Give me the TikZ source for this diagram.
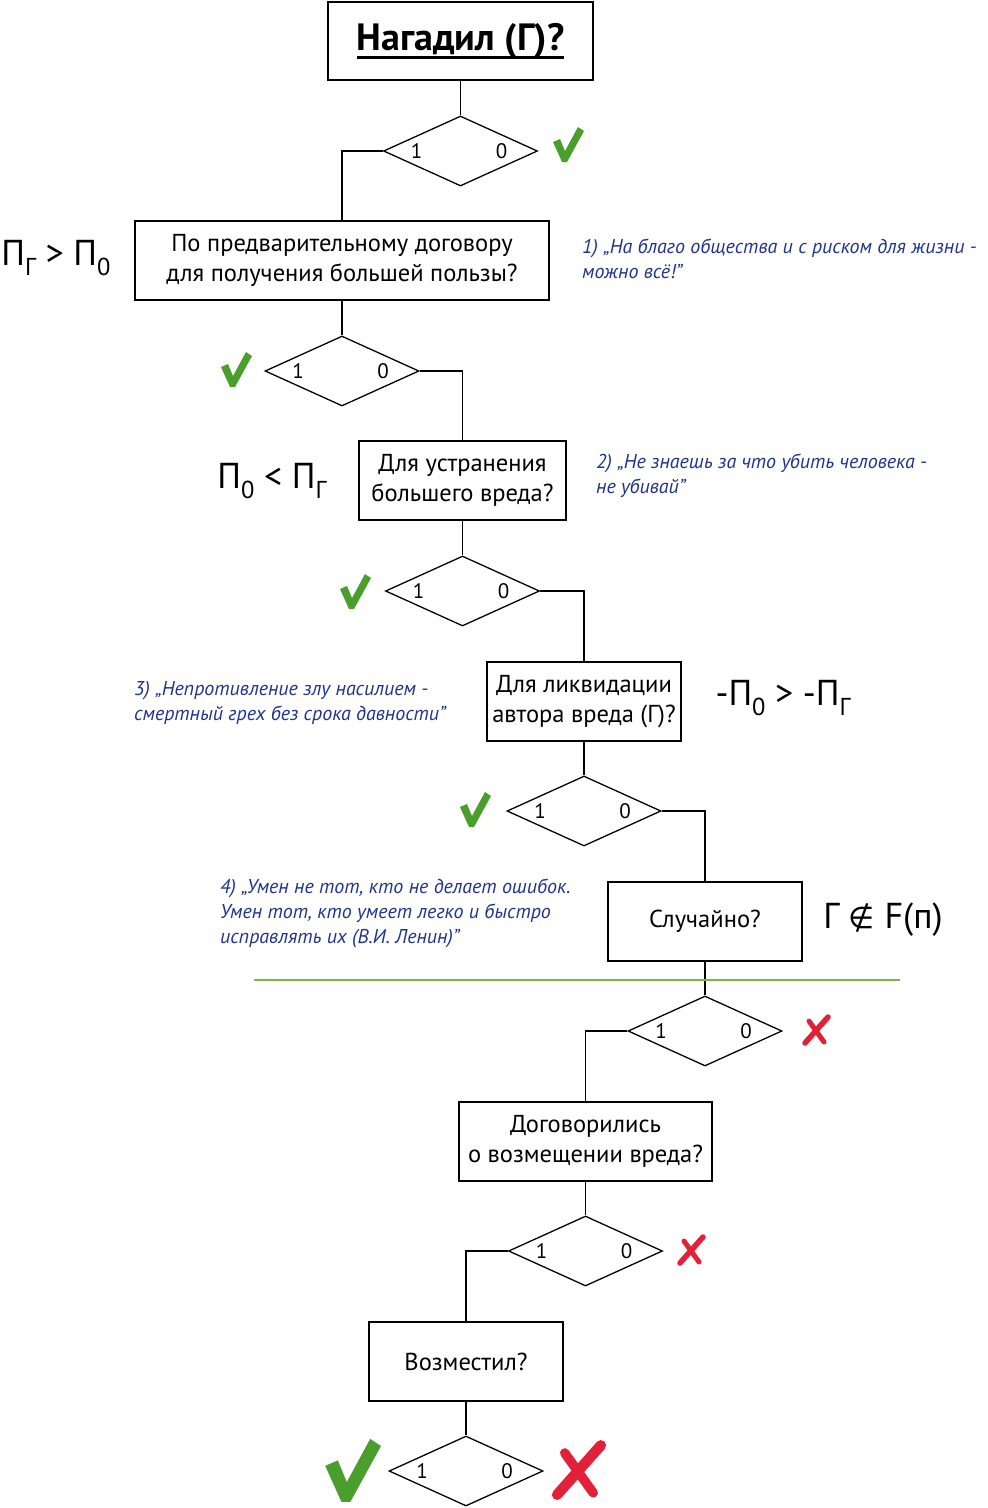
\documentclass[tikz,border=0pt]{standalone}
\usepackage{fontspec}
\setmainfont{PT Sans}
\newfontfamily\symfont{DejaVu Sans}
\usepackage{xcolor}
\usepackage{tikz}
\usetikzlibrary{shapes.geometric}

\definecolor{okgreen}{RGB}{74,158,44}
\definecolor{nored}{RGB}{226,32,56}
\definecolor{mottoblue}{RGB}{32,52,140}
\definecolor{splitgreen}{RGB}{128,180,70}

\newcommand\lowsub[1]{\raisebox{-0.28em}{\scalebox{0.68}{#1}}}
\newsavebox\headbox
\newcommand\thickul[1]{\sbox\headbox{#1}%
  \rlap{\rule[-9pt]{\wd\headbox}{3.5pt}}\usebox\headbox}

%% green tick, bottom tip at (#1,#2), scale #3
\newcommand\okmark[3]{%
  \begin{scope}[shift={(#1,#2)}, scale=#3]
    \fill[okgreen] (-11,-19) -- (-4,-22) -- (1,-10) -- (14,-34) -- (20,-30)
      -- (3,1) -- (-2,1) -- cycle;
  \end{scope}}
%% red cross, centre at (#1,#2), scale #3
\newcommand\nomark[3]{%
  \begin{scope}[shift={(#1,#2)}, scale=#3]
    \draw[nored, line width=#3*5.5pt, line cap=round] (-11,13) -- (12,-13);
    \draw[nored, line width=#3*5pt, line cap=round] (-7,-9) -- (8,12);
  \end{scope}}

\begin{document}
\begin{tikzpicture}[x=1pt, y=-1pt,
  question/.style={rectangle, draw, line width=1.6pt, minimum height=79pt,
    font=\fontsize{24.5}{30}\selectfont, align=center, inner sep=0pt},
  decision/.style={diamond, draw, line width=1.3pt, minimum width=154pt,
    minimum height=70pt, inner sep=0pt, aspect=2.2},
  branch/.style={font=\fontsize{21}{24}\selectfont, inner sep=0pt},
  link/.style={line width=1.3pt},
  motto/.style={font=\fontsize{20}{25}\selectfont\itshape, text=mottoblue,
    align=left, anchor=west, inner sep=0pt},
  relation/.style={font=\fontsize{36}{40}\selectfont, inner sep=0pt}
]
  \useasboundingbox (0,0) rectangle (988,1508);

  \node[question, minimum width=265pt, minimum height=78pt] (B1) at (460.5,41)
    {\fontsize{38}{40}\selectfont\bfseries\thickul{Нагадил (Г)?}};

  \node[question, minimum width=414pt] (B2) at (342,260.5)
    {По предварительному договору\\для получения большей пользы?};
  \node[question, minimum width=207pt] (B3) at (462.5,480.5)
    {Для устранения\\большего вреда?};
  \node[question, minimum width=194pt] (B4) at (584,701.5)
    {Для ликвидации\\автора вреда (Г)?};
  \node[question, minimum width=194pt] (B5) at (705,921.5) {Случайно?};
  \node[question, minimum width=253pt] (B6) at (585.5,1141.5)
    {Договорились\\о возмещении вреда?};
  \node[question, minimum width=194pt] (B7) at (466,1361.5) {Возместил?};

  \node[decision] (D1) at (460.5,151) {};
  \node[decision] (D2) at (342,371) {};
  \node[decision] (D3) at (462.5,591) {};
  \node[decision] (D4) at (584,811) {};
  \node[decision] (D5) at (705,1031) {};
  \node[decision] (D6) at (585.5,1251) {};
  \node[decision] (D7) at (466,1471) {};

  \foreach \d in {D1,D2,D3,D4,D5,D6,D7} {
    \node[branch] (\d-one) at ([xshift=-44pt]\d.center) {1};
    \node[branch] (\d-zero) at ([xshift=41pt]\d.center) {0};
  }

  %% flow
  \draw[link] (B1.south) -- (D1.north);
  \draw[link] (D1.west) -| (B2.north);
  \draw[link] (B2.south) -- (D2.north);
  \draw[link] (D2.east) -| (B3.north);
  \draw[link] (B3.south) -- (D3.north);
  \draw[link] (D3.east) -| (B4.north);
  \draw[link] (B4.south) -- (D4.north);
  \draw[link] (D4.east) -| (B5.north);
  \draw[link] (B5.south) -- (D5.north);
  \draw[link] (D5.west) -| (B6.north);
  \draw[link] (B6.south) -- (D6.north);
  \draw[link] (D6.west) -| (B7.north);
  \draw[link] (B7.south) -- (D7.north);

  \draw[splitgreen, line width=1.3pt] (254,980) -- (900,980);

  %% relations
  \node[relation] (R1) at (56,258) {П\lowsub{Г} > П\lowsub{0}};
  \node[relation] (R2) at (272,481) {П\lowsub{0} < П\lowsub{Г}};
  \node[relation] (R3) at (783,698) {-П\lowsub{0} > -П\lowsub{Г}};
  \node[relation] (R4) at (883,920) {Г {\symfont\fontsize{30}{36}\selectfont ∉} F(п)};

  %% mottos
  \node[motto] (M1) at (582,259)
    {1) „На благо общества и с риском для жизни -\\можно всё!”};
  \node[motto] (M2) at (596,475.5)
    {2) „Не знаешь за что убить человека -\\не убивай”};
  \node[motto] (M3) at (134,702.5)
    {3) „Непротивление злу насилием -\\смертный грех без срока давности”};
  \node[motto] (M4) at (220,913)
    {4) „Умен не тот, кто не делает ошибок.\\Умен тот, кто умеет легко и быстро\\исправлять их  (В.И. Ленин)”};

  %% marks
  \okmark{564}{161}{1}
  \okmark{232}{386}{1}
  \okmark{351}{608}{1}
  \okmark{471}{826}{1}
  \okmark{345}{1500}{1.8}
  \nomark{816}{1030}{1}
  \nomark{691}{1250}{1}
  \nomark{578}{1470}{1.9}
\end{tikzpicture}
\end{document}
